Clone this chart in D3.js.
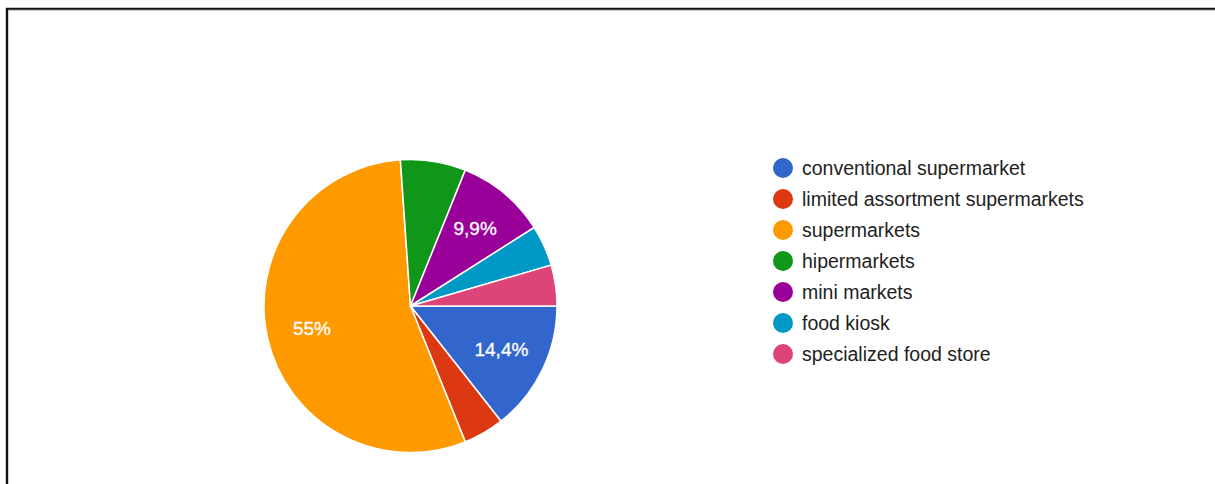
<!DOCTYPE html>
<html><head><meta charset="utf-8">
<script src="https://cdn.jsdelivr.net/npm/d3@7"></script>
<style>html,body{margin:0;padding:0;background:#fff;}svg{display:block;}</style>
</head><body>
<svg id="c" width="1215" height="484"></svg>
<script>
const categories = ["conventional supermarket","limited assortment supermarkets","supermarkets","hipermarkets","mini markets","food kiosk","specialized food store"];
const values = [14.4, 4.5, 55, 7.2, 9.9, 4.5, 4.5];
const labels = ["14,4%", "4,5%", "55%", "7,2%", "9,9%", "4,5%", "4,5%"];
const colors = ["#3366cc","#dc3912","#ff9900","#109618","#990099","#0099c6","#dd4477"];

const svg = d3.select("#c");
const font = "Arial, 'Liberation Sans', sans-serif";

// frame
svg.append("line").attr("x1",6).attr("x2",1215).attr("y1",10.3).attr("y2",10.3).attr("stroke","#bbb").attr("stroke-width",1);
svg.append("line").attr("x1",6).attr("x2",1215).attr("y1",8.8).attr("y2",8.8).attr("stroke","#111").attr("stroke-width",2);
svg.append("line").attr("x1",7).attr("x2",7).attr("y1",8).attr("y2",484).attr("stroke","#111").attr("stroke-width",2.4);

const cx = 410.5, cy = 306, r = 146.5;
const data = categories.map((c,i)=>({cat:c, v:values[i], lab:labels[i], col:colors[i]}));
const pie = d3.pie().value(d=>d.v).sort(null).startAngle(Math.PI/2).endAngle(Math.PI/2 + 2*Math.PI);
const arc = d3.arc().innerRadius(0).outerRadius(r);
const labelArc = d3.arc().innerRadius(r*0.69).outerRadius(r*0.69);
const g = svg.append("g").attr("transform",`translate(${cx},${cy})`);
const arcs = pie(data);
g.selectAll("path").data(arcs).join("path")
  .attr("d",arc).attr("fill",d=>d.data.col).attr("stroke","#fff").attr("stroke-width",1.5);
g.selectAll("text").data(arcs.filter(d=>d.data.v>=9)).join("text")
  .attr("transform",d=>`translate(${labelArc.centroid(d)})`)
  .attr("text-anchor","middle").attr("dy","0.33em")
  .attr("fill","#fff").attr("stroke","#fff").attr("stroke-width",0.3)
  .attr("font-family",font).attr("font-size",19)
  .text(d=>d.data.lab);

// legend
const lg = svg.append("g").attr("transform","translate(783,168)");
const items = lg.selectAll("g").data(data).join("g").attr("transform",(d,i)=>`translate(0,${i*31})`);
items.append("circle").attr("r",10).attr("fill",d=>d.col);
items.append("text").attr("x",19).attr("dy","0.35em").attr("fill","#222")
  .attr("font-family",font).attr("font-size",19.5).text(d=>d.cat);
</script>
</body></html>
